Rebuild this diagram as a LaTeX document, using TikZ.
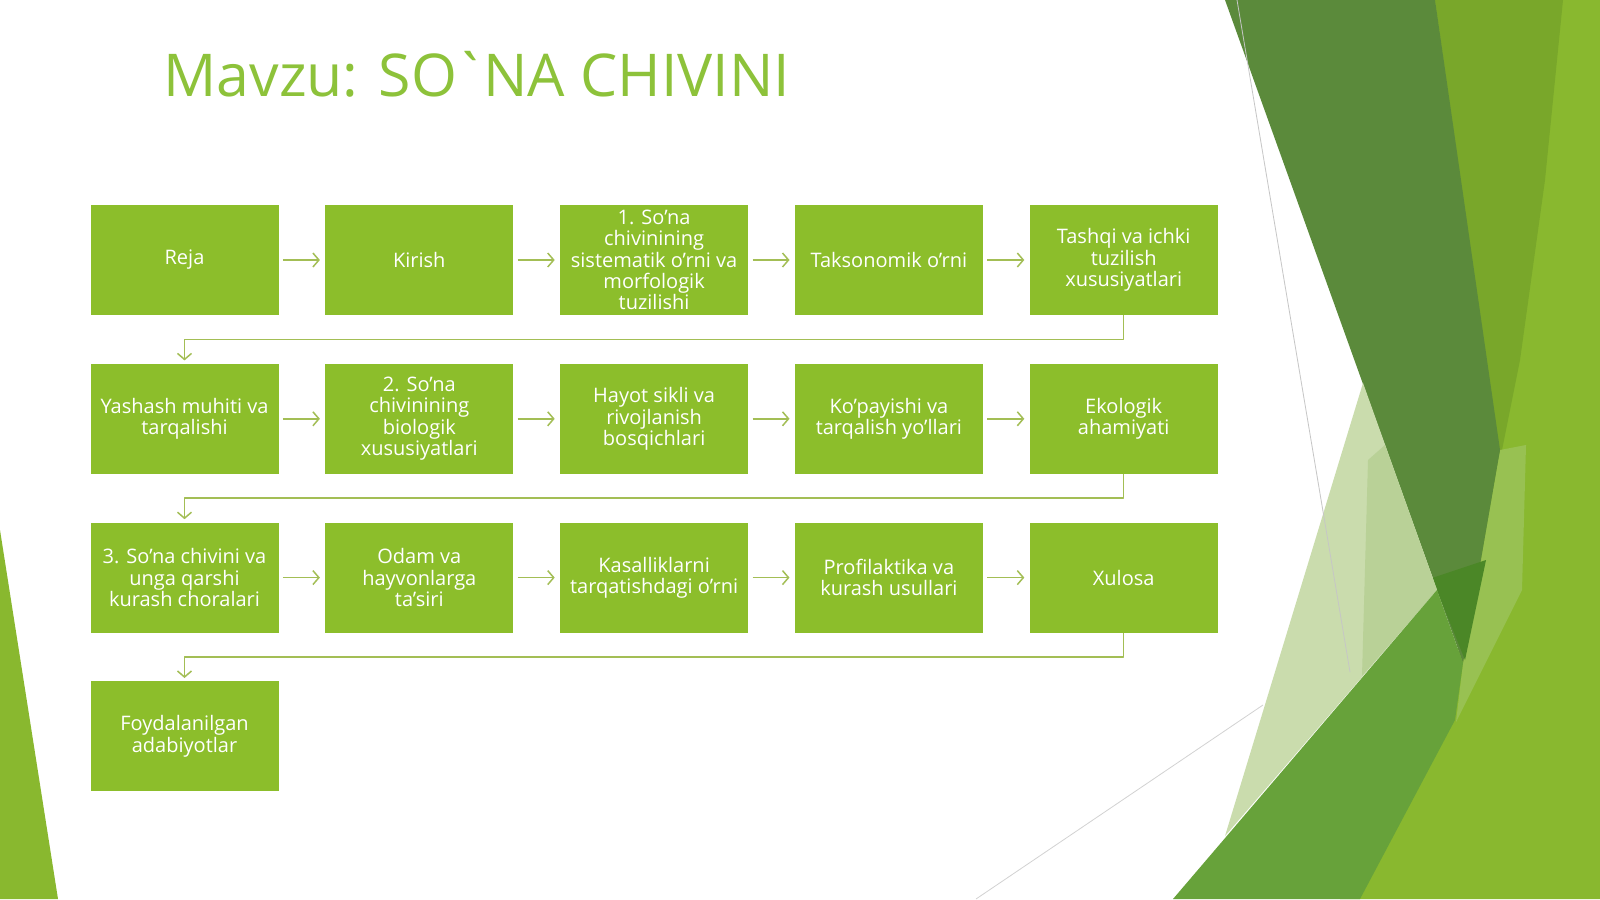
\documentclass[tikz,border=0pt]{standalone}
\usepackage{fontspec}
\setmainfont{Open Sans}
\usetikzlibrary{positioning,arrows.meta}

\definecolor{boxgreen}{HTML}{8CBE2B}
\definecolor{titlegreen}{HTML}{8DC23A}
\definecolor{linegreen}{HTML}{A3BE55}
\definecolor{darkleaf}{HTML}{5B8A3B}
\definecolor{deepleaf}{HTML}{4B8727}
\definecolor{oliveleaf}{HTML}{79A72A}
\definecolor{yellowleaf}{HTML}{89B82F}
\definecolor{midleaf}{HTML}{67A23A}
\definecolor{paleleaf}{HTML}{CADCAD}
\definecolor{paleleafb}{HTML}{B9D197}
\definecolor{softleaf}{HTML}{98C152}

\tikzset{
  stage/.style={rectangle, fill=boxgreen, text=white, minimum width=94pt,
    minimum height=55pt, inner sep=2pt, align=center,
    font=\fontsize{10}{10.7}\selectfont},
  flowline/.style={draw=linegreen, line width=0.75pt,
    -{Straight Barb[length=3pt,width=7pt]}, shorten <=2pt, shorten >=2.5pt},
  turnline/.style={draw=linegreen, line width=0.75pt,
    -{Straight Barb[length=3pt,width=7pt]}, shorten >=1.5pt},
}

\begin{document}
\begin{tikzpicture}[x=0.5pt, y=-0.5pt, node distance=24pt and 23pt, line join=round]

% --- page, 1600 x 899 px, y pointing down ---
\fill[white] (0,0) rectangle (1600,899);
\useasboundingbox (0,0) rectangle (1600,899);

% ------------------ background leaves ------------------
% left wedge
\fill[yellowleaf] (0,530) -- (58,899) -- (0,899) -- cycle;

% right group, back to front
\fill[yellowleaf] (1420,0) -- (1600,0) -- (1600,899) -- (1340,899) -- (1460,680) -- cycle;
\fill[oliveleaf] (1435,0) -- (1563,0) -- (1545,180) -- (1520,360) -- (1500,460) -- cycle;
\fill[softleaf] (1500,450) -- (1526,445) -- (1522,590) -- (1456,722) -- (1463,663) -- cycle;
\fill[darkleaf] (1225,0) -- (1435,0) -- (1500,450) -- (1463,663) -- (1437,590) -- cycle;
\fill[deepleaf] (1432,578) -- (1486,560) -- (1465,660) -- cycle;
\fill[paleleaf] (1363,383) -- (1437,590) -- (1225,836) -- cycle;
\fill[paleleafb] (1385,445) -- (1437,590) -- (1362,676) -- (1368,460) -- cycle;

% thin grey guide lines
\draw[gray!45, line width=0.4pt] (1237,0) -- (1350,672);
\draw[gray!35, line width=0.4pt] (1263,705) -- (976,899);

\fill[midleaf] (1173,899) -- (1437,590) -- (1463,663) -- (1455,720) -- (1360,899) -- cycle;

% ------------------ title ------------------
\node[anchor=base west, inner sep=0pt, text=titlegreen,
  font=\fontsize{29.5}{34}\selectfont] (title) at (163,97)
  {Mavzu: SO\kern-.06em\textasciigrave\kern-.08em NA CHIVINI};

% ------------------ row 1 ------------------
\node[stage] (reja) at (184.5,260) {Reja};
\node[stage, right=of reja] (kirish) {Kirish};
\node[stage, right=of kirish] (sistem) {1. So’na\\chivinining\\sistematik o’rni va\\morfologik\\tuzilishi};
\node[stage, right=of sistem] (takson) {Taksonomik o’rni};
\node[stage, right=of takson] (tuzil) {Tashqi va ichki\\tuzilish\\xususiyatlari};

% ------------------ row 2 ------------------
\node[stage, below=of reja] (yashash) {Yashash muhiti va\\tarqalishi};
\node[stage, right=of yashash] (biolog) {2. So’na\\chivinining\\biologik\\xususiyatlari};
\node[stage, right=of biolog] (hayot) {Hayot sikli va\\rivojlanish\\bosqichlari};
\node[stage, right=of hayot] (kopay) {Ko’payishi va\\tarqalish yo’llari};
\node[stage, right=of kopay] (ekolog) {Ekologik\\ahamiyati};

% ------------------ row 3 ------------------
\node[stage, below=of yashash] (kurash) {3. So’na chivini va\\unga qarshi\\kurash choralari};
\node[stage, right=of kurash] (odam) {Odam va\\hayvonlarga\\ta’siri};
\node[stage, right=of odam] (kasal) {Kasalliklarni\\tarqatishdagi o’rni};
\node[stage, right=of kasal] (profil) {Profilaktika va\\kurash usullari};
\node[stage, right=of profil] (xulosa) {Xulosa};

% ------------------ row 4 ------------------
\node[stage, below=of kurash] (adab) {Foydalanilgan\\adabiyotlar};

% connectors inside rows
\foreach \a/\b in {reja/kirish, kirish/sistem, sistem/takson, takson/tuzil,
                   yashash/biolog, biolog/hayot, hayot/kopay, kopay/ekolog,
                   kurash/odam, odam/kasal, kasal/profil, profil/xulosa}
  \draw[flowline] (\a) -- (\b);

% connectors between rows
\draw[turnline] (tuzil.south) -- ++(0,24) -| (yashash.north);
\draw[turnline] (ekolog.south) -- ++(0,24) -| (kurash.north);
\draw[turnline] (xulosa.south) -- ++(0,24) -| (adab.north);

\end{tikzpicture}
\end{document}
